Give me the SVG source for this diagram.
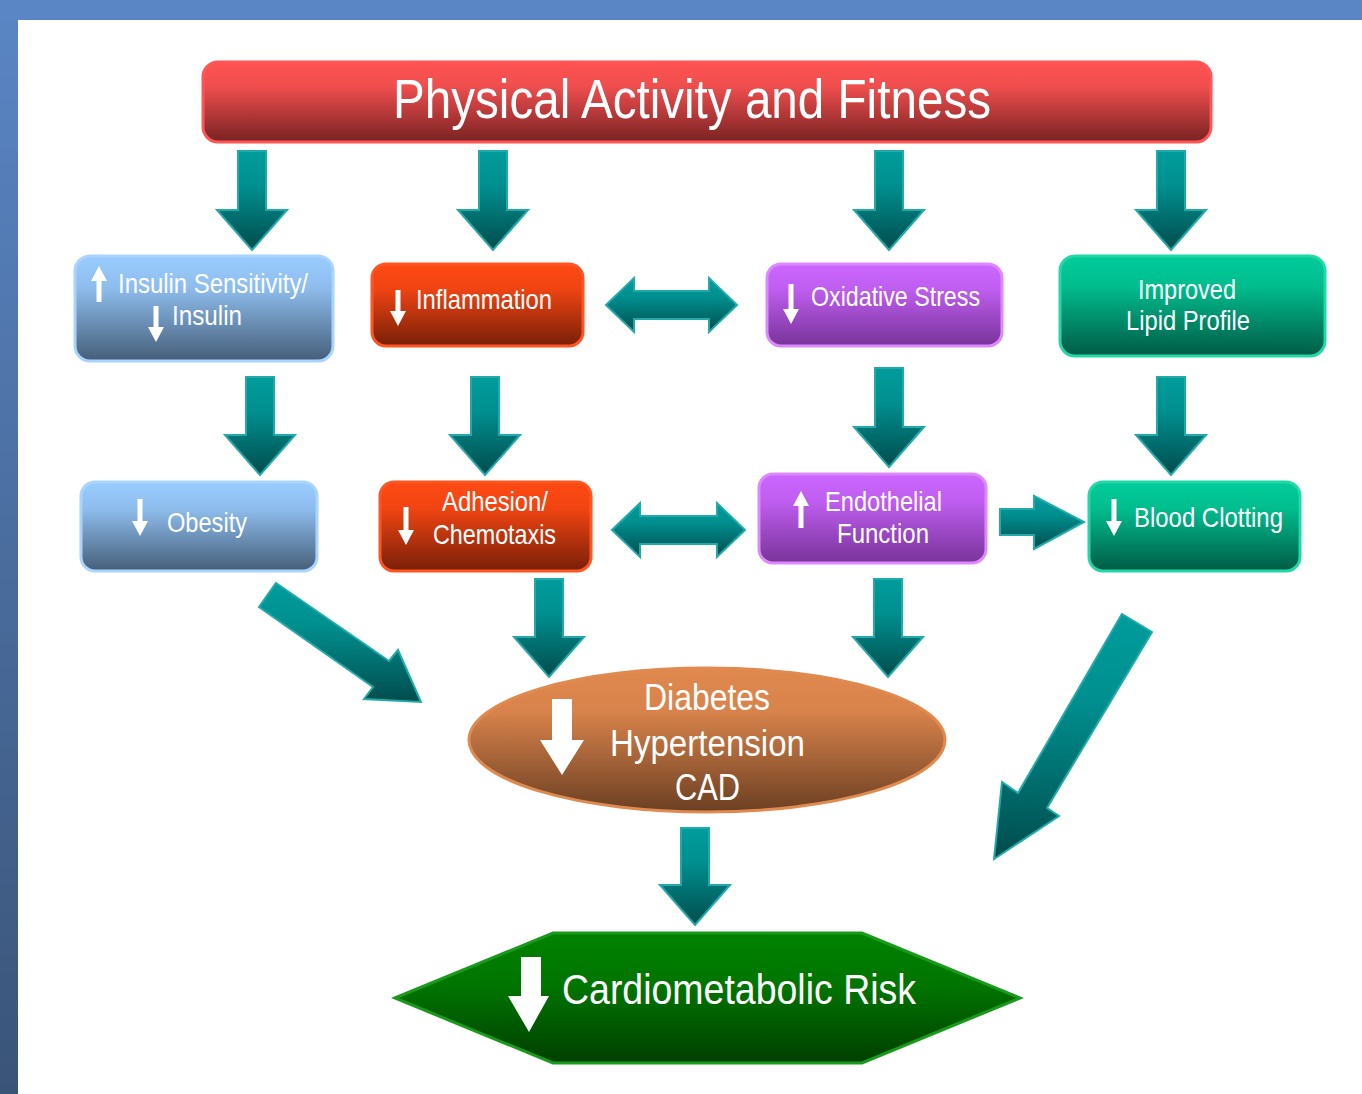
<svg xmlns="http://www.w3.org/2000/svg" width="1362" height="1094" viewBox="0 0 1362 1094">
<defs>
<linearGradient id="gFrame" x1="0" y1="0" x2="0" y2="1"><stop offset="0" stop-color="#5A86C5"/><stop offset="1" stop-color="#3A5478"/></linearGradient>
<linearGradient id="gTeal" x1="0" y1="0" x2="0" y2="1"><stop offset="0" stop-color="#009C9C"/><stop offset="0.35" stop-color="#008F8F"/><stop offset="1" stop-color="#004C4C"/></linearGradient>
<linearGradient id="gRed" x1="0" y1="0" x2="0" y2="1"><stop offset="0" stop-color="#FF5252"/><stop offset="0.3" stop-color="#F04E4E"/><stop offset="1" stop-color="#782222"/></linearGradient>
<linearGradient id="gBlue" x1="0" y1="0" x2="0" y2="1"><stop offset="0" stop-color="#99CCFF"/><stop offset="0.3" stop-color="#8EBDED"/><stop offset="1" stop-color="#455E78"/></linearGradient>
<linearGradient id="gOrange" x1="0" y1="0" x2="0" y2="1"><stop offset="0" stop-color="#FF4A14"/><stop offset="0.3" stop-color="#F04412"/><stop offset="1" stop-color="#781F08"/></linearGradient>
<linearGradient id="gPurple" x1="0" y1="0" x2="0" y2="1"><stop offset="0" stop-color="#CC66FF"/><stop offset="0.3" stop-color="#BF5EF0"/><stop offset="1" stop-color="#783399"/></linearGradient>
<linearGradient id="gGreen" x1="0" y1="0" x2="0" y2="1"><stop offset="0" stop-color="#00CC99"/><stop offset="0.3" stop-color="#00BD8E"/><stop offset="1" stop-color="#005A44"/></linearGradient>
<linearGradient id="gBrown" x1="0" y1="0" x2="0" y2="1"><stop offset="0" stop-color="#E0884E"/><stop offset="0.3" stop-color="#D8834B"/><stop offset="1" stop-color="#6B3F22"/></linearGradient>
<linearGradient id="gHex" x1="0" y1="0" x2="0" y2="1"><stop offset="0" stop-color="#008200"/><stop offset="0.4" stop-color="#007500"/><stop offset="1" stop-color="#003F00"/></linearGradient>
<style>
.t{font-family:"Liberation Sans Narrow","Arial Narrow","Liberation Sans",Arial,sans-serif;fill:#FFFFFF;}
.s{font-size:28px;}
.arr{fill:url(#gTeal);stroke:#22AAAA;stroke-width:2;stroke-linejoin:miter;}
.w{fill:#FFFFFF;}
</style>
</defs>
<rect x="0" y="0" width="1362" height="1094" fill="#FFFFFF"/>
<rect x="0" y="0" width="18" height="1094" fill="url(#gFrame)"/>
<rect x="0" y="0" width="1362" height="20" fill="#5A86C5"/>

<g id="connectors">
<path class="arr" d="M238,151 H266 V210 H287 L252,250 L217,210 H238 Z"/>
<path class="arr" d="M479,151 H507 V210 H528 L493,250 L458,210 H479 Z"/>
<path class="arr" d="M875,151 H903 V210 H924 L889,250 L854,210 H875 Z"/>
<path class="arr" d="M1157,151 H1185 V210 H1206 L1171,250 L1136,210 H1157 Z"/>
<path class="arr" d="M606,305 L634,278 V291 H709 V278 L737,305 L709,332 V319 H634 V332 Z"/>
<path class="arr" d="M246,377 H274 V435 H295 L260,475 L225,435 H246 Z"/>
<path class="arr" d="M471,377 H499 V435 H520 L485,475 L450,435 H471 Z"/>
<path class="arr" d="M875,368 H903 V427 H924 L889,467 L854,427 H875 Z"/>
<path class="arr" d="M1157,377 H1185 V435 H1206 L1171,475 L1136,435 H1157 Z"/>
<path class="arr" d="M612,530 L640,503 V516 H717 V503 L745,530 L717,557 V544 H640 V557 Z"/>
<path class="arr" d="M1000,509 H1034 V496 L1084,522 L1034,549 V535 H1000 Z"/>
<path class="arr" d="M535,579 H563 V637 H584 L549,677 L514,637 H535 Z"/>
<path class="arr" d="M874,579 H902 V637 H923 L888,677 L853,637 H874 Z"/>
<path class="arr" d="M276,583 L389,661 L398,650 L421,702 L364,699 L373,687 L259,607 Z"/>
<path class="arr" d="M1122,614 L1152,632 L1047,808 L1059,816 L994,859 L1002,782 L1018,793 Z"/>
<path class="arr" d="M681,828 H709 V885 H730 L695,925 L660,885 H681 Z"/>
</g>

<g id="title">
<rect x="203" y="62" width="1008" height="80" rx="15" fill="url(#gRed)" stroke="#FF5555" stroke-width="3"/>
<text class="t" x="393" y="118" font-size="55" textLength="598" lengthAdjust="spacingAndGlyphs">Physical Activity and Fitness</text>
</g>

<g id="insulin">
<rect x="75" y="256" width="258" height="105" rx="15" fill="url(#gBlue)" stroke="#A8D4FF" stroke-width="3"/>
<path class="w" d="M96.5,302 H101.5 V281 H107 L99,266 L91,281 H96.5 Z"/>
<path class="w" d="M153.5,306 H158.5 V327 H164 L156,342 L148,327 H153.5 Z"/>
<text class="t s" x="118" y="293" textLength="190" lengthAdjust="spacingAndGlyphs">Insulin Sensitivity/</text>
<text class="t s" x="172" y="325" textLength="70" lengthAdjust="spacingAndGlyphs">Insulin</text>
</g>

<g id="inflammation">
<rect x="372" y="264" width="211" height="82" rx="14" fill="url(#gOrange)" stroke="#FF5522" stroke-width="3"/>
<path class="w" d="M395.5,290 H400.5 V311 H406 L398,326 L390,311 H395.5 Z"/>
<text class="t s" x="416" y="309" textLength="136" lengthAdjust="spacingAndGlyphs">Inflammation</text>
</g>

<g id="oxidative">
<rect x="767" y="264" width="235" height="82" rx="14" fill="url(#gPurple)" stroke="#DD88FF" stroke-width="3"/>
<path class="w" d="M788.5,284 H793.5 V309 H799 L791,324 L783,309 H788.5 Z"/>
<text class="t s" x="811" y="306" textLength="169" lengthAdjust="spacingAndGlyphs">Oxidative Stress</text>
</g>

<g id="lipid">
<rect x="1060" y="256" width="265" height="100" rx="15" fill="url(#gGreen)" stroke="#22D8A8" stroke-width="3"/>
<text class="t s" x="1138" y="299" textLength="98" lengthAdjust="spacingAndGlyphs">Improved</text>
<text class="t s" x="1126" y="330" textLength="124" lengthAdjust="spacingAndGlyphs">Lipid Profile</text>
</g>

<g id="obesity">
<rect x="81" y="482" width="236" height="89" rx="14" fill="url(#gBlue)" stroke="#A8D4FF" stroke-width="3"/>
<path class="w" d="M137.5,499 H142.5 V521 H148 L140,536 L132,521 H137.5 Z"/>
<text class="t s" x="167" y="532" textLength="80" lengthAdjust="spacingAndGlyphs">Obesity</text>
</g>

<g id="adhesion">
<rect x="380" y="482" width="211" height="89" rx="14" fill="url(#gOrange)" stroke="#FF5522" stroke-width="3"/>
<path class="w" d="M403.5,507 H408.5 V530 H414 L406,545 L398,530 H403.5 Z"/>
<text class="t s" x="442" y="511" textLength="106" lengthAdjust="spacingAndGlyphs">Adhesion/</text>
<text class="t s" x="433" y="544" textLength="123" lengthAdjust="spacingAndGlyphs">Chemotaxis</text>
</g>

<g id="endothelial">
<rect x="759" y="474" width="227" height="89" rx="14" fill="url(#gPurple)" stroke="#DD88FF" stroke-width="3"/>
<path class="w" d="M798.5,528 H803.5 V506 H809 L801,491 L793,506 H798.5 Z"/>
<text class="t s" x="825" y="511" textLength="117" lengthAdjust="spacingAndGlyphs">Endothelial</text>
<text class="t s" x="837" y="543" textLength="92" lengthAdjust="spacingAndGlyphs">Function</text>
</g>

<g id="clotting">
<rect x="1089" y="482" width="211" height="89" rx="14" fill="url(#gGreen)" stroke="#22D8A8" stroke-width="3"/>
<path class="w" d="M1111.5,499 H1116.5 V521 H1122 L1114,536 L1106,521 H1111.5 Z"/>
<text class="t s" x="1134" y="527" textLength="149" lengthAdjust="spacingAndGlyphs">Blood Clotting</text>
</g>

<g id="diseases">
<ellipse cx="707" cy="740" rx="238" ry="72" fill="url(#gBrown)" stroke="#E08A50" stroke-width="3"/>
<path class="w" d="M552,699 H572 V740 H584 L562,775 L540,740 H552 Z"/>
<text class="t" x="644" y="710" font-size="36" textLength="126" lengthAdjust="spacingAndGlyphs">Diabetes</text>
<text class="t" x="610" y="756" font-size="36" textLength="195" lengthAdjust="spacingAndGlyphs">Hypertension</text>
<text class="t" x="675" y="800" font-size="36" textLength="65" lengthAdjust="spacingAndGlyphs">CAD</text>
</g>

<g id="risk">
<polygon points="395,998 553,933 862,933 1020,998 862,1063 553,1063" fill="url(#gHex)" stroke="#1A9A1A" stroke-width="3"/>
<path class="w" d="M521,957 H541 V996 H549 L529,1032 L508,996 H521 Z"/>
<text class="t" x="562" y="1004" font-size="43" textLength="354" lengthAdjust="spacingAndGlyphs">Cardiometabolic Risk</text>
</g>
</svg>
